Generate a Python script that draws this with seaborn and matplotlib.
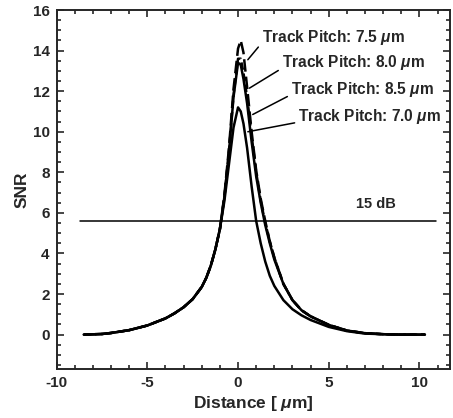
import numpy as np
import pandas as pd
import matplotlib
matplotlib.use("Agg")
import matplotlib.pyplot as plt
from matplotlib.ticker import MultipleLocator
import seaborn as sns

# distance grid (um) shared by all curves
dist = [-8.5, -7.5, -7, -6, -5, -4, -3.5, -3, -2.5, -2, -1.75, -1.5, -1.25, -1, -0.75,
        -0.5, -0.25, 0, 0.15, 0.3, 0.5, 0.75, 1, 1.25, 1.5, 1.75, 2, 2.5, 3, 3.5,
        4, 5, 6, 7, 8, 9, 10.3]

snr_70 = [0.0, 0.03, 0.08, 0.22, 0.45, 0.8, 1.05, 1.35, 1.75, 2.35, 2.8, 3.4, 4.2, 5.2, 6.6,
          8.4, 10.2, 11.2, 11.0, 10.4, 9.2, 7.3, 5.6, 4.5, 3.6, 2.9, 2.4, 1.7, 1.25, 0.95,
          0.72, 0.38, 0.17, 0.05, 0.02, 0.0, 0.0]
snr_80 = [0.0, 0.03, 0.08, 0.22, 0.45, 0.8, 1.05, 1.35, 1.75, 2.35, 2.8, 3.4, 4.2, 5.2, 6.8,
          9.0, 11.7, 13.4, 13.3, 12.6, 11.4, 9.5, 7.8, 6.5, 5.4, 4.5, 3.7, 2.5, 1.7, 1.2,
          0.9, 0.48, 0.2, 0.07, 0.02, 0.0, 0.0]
snr_85 = [0.0, 0.03, 0.08, 0.22, 0.45, 0.8, 1.05, 1.35, 1.75, 2.35, 2.8, 3.4, 4.2, 5.2, 6.8,
          9.0, 11.8, 13.6, 13.6, 12.9, 11.7, 9.8, 8.0, 6.6, 5.5, 4.6, 3.8, 2.5, 1.7, 1.2,
          0.9, 0.48, 0.2, 0.07, 0.02, 0.0, 0.0]
snr_75 = [0.0, 0.03, 0.08, 0.22, 0.45, 0.8, 1.05, 1.35, 1.75, 2.35, 2.8, 3.4, 4.2, 5.2, 6.9,
          9.2, 12.1, 14.1, 14.5, 13.9, 12.2, 10.0, 8.1, 6.7, 5.6, 4.6, 3.8, 2.5, 1.7, 1.2,
          0.9, 0.48, 0.2, 0.07, 0.02, 0.0, 0.0]

pitches = ["7.0", "8.0", "8.5", "7.5"]
threshold = 5.6          # 15 dB level
thr_x = [-8.7, 10.9]

df = pd.DataFrame({
    "Distance": dist * 4,
    "SNR": snr_70 + snr_80 + snr_85 + snr_75,
    "Pitch": sum([[p] * len(dist) for p in pitches], []),
})

sns.set_style("ticks")
plt.rcParams["font.family"] = ["Liberation Sans", "DejaVu Sans"]
plt.rcParams["mathtext.fontset"] = "custom"
plt.rcParams["mathtext.it"] = "Liberation Sans:italic:bold"
plt.rcParams["axes.unicode_minus"] = False

fig = plt.figure(figsize=(4.53, 4.18), dpi=100)
ax = fig.add_axes([0.125, 0.117, 0.869, 0.859])

styles = {"7.0": "", "8.0": "", "8.5": (3, 1.5), "7.5": (5, 2)}
sns.lineplot(data=df, x="Distance", y="SNR", hue="Pitch", style="Pitch",
             dashes=styles, palette=["black"] * 4, linewidth=1.8,
             legend=False, ax=ax, sort=False)

sns.lineplot(x=thr_x, y=[threshold, threshold], color="black", linewidth=1.1, ax=ax)
ax.text(7.6, 6.45, "15 dB", ha="center", va="center", fontsize=10.5, fontweight="bold")

# annotations with leader lines
notes = [
    ("7.5", (0.54, 13.55), (1.3, 14.65)),
    ("8.0", (0.63, 12.15), (2.4, 13.4)),
    ("8.5", (0.81, 10.85), (2.9, 12.1)),
    ("7.0", (0.54, 10.0), (3.3, 10.75)),
]
for p, xy, xt in notes:
    ax.annotate("Track Pitch: " + p + r" $\mu$m", xy=xy, xytext=xt,
                ha="left", va="center", fontsize=11.2, fontweight="bold",
                arrowprops=dict(arrowstyle="-", color="black", lw=1.1,
                                shrinkA=0, shrinkB=0, relpos=(0, 0.2)))

ax.set_xlim(-10, 11.7)
ax.set_ylim(-1.7, 16)
ax.set_xticks([-10, -5, 0, 5, 10])
ax.set_yticks([0, 2, 4, 6, 8, 10, 12, 14, 16])
ax.xaxis.set_minor_locator(MultipleLocator(1))
ax.yaxis.set_minor_locator(MultipleLocator(0.5))
ax.tick_params(which="both", direction="in", top=True, right=True, labelsize=11, width=1.2)
ax.tick_params(which="major", length=5, pad=5)
ax.tick_params(which="minor", length=3)
for lab in ax.get_xticklabels() + ax.get_yticklabels():
    lab.set_fontweight("bold")
for s in ax.spines.values():
    s.set_linewidth(1.4)

ax.set_xlabel(r"Distance [ $\mu$m]", fontsize=12.5, fontweight="bold", labelpad=3)
ax.set_ylabel("SNR", fontsize=12.5, fontweight="bold", labelpad=2)

fig.savefig("out.png", dpi=100)
